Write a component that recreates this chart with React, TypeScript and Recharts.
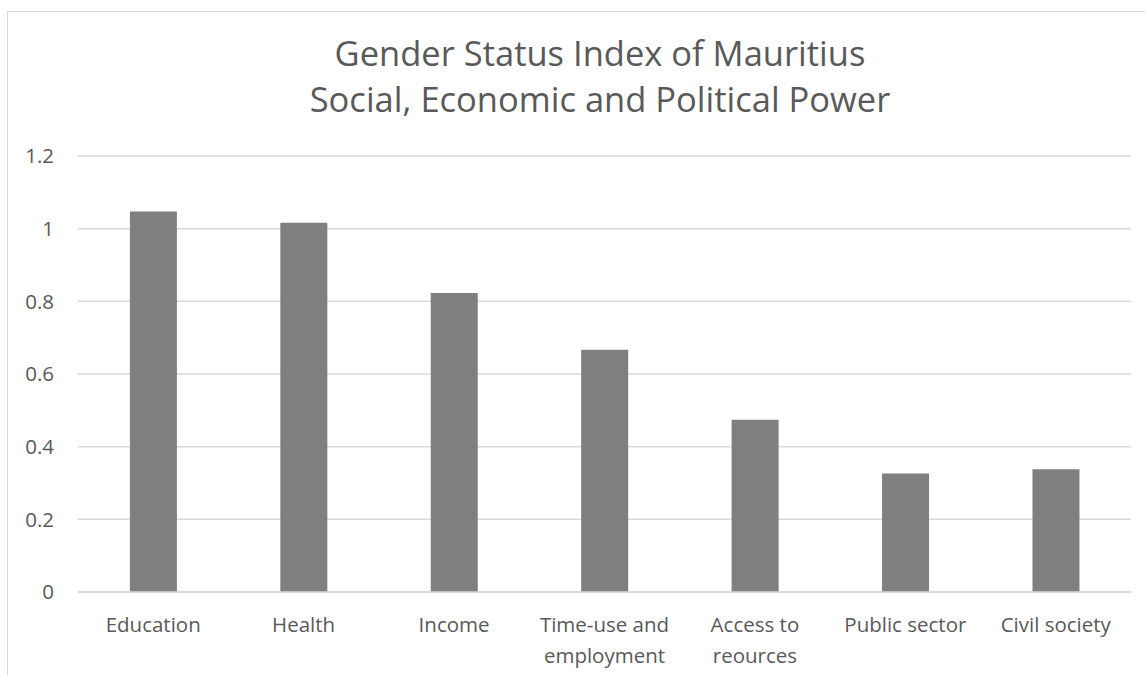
import React from 'react';
import { BarChart, Bar, XAxis, YAxis, CartesianGrid } from 'recharts';

const categories: string[] = [
  'Education',
  'Health',
  'Income',
  'Time-use and employment',
  'Access to reources',
  'Public sector',
  'Civil society',
];

const indexValues: number[] = [1.047, 1.016, 0.823, 0.667, 0.474, 0.326, 0.338];

const yTicks: number[] = [0, 0.2, 0.4, 0.6, 0.8, 1, 1.2];

const titleLines: string[] = ['Gender Status Index of Mauritius', 'Social, Economic and Political Power'];

const data = categories.map((name, i) => ({ name, value: indexValues[i] }));

const FONT = '"Open Sans", "Noto Sans", sans-serif';
const TEXT_COLOR = '#595959';
const TICK_SIZE = 20.5;
const LABEL_WIDTH = 146;

let ctx: CanvasRenderingContext2D | null = null;
const measure = (s: string) => {
  if (!ctx) ctx = document.createElement('canvas').getContext('2d');
  if (!ctx) return s.length * TICK_SIZE * 0.55;
  ctx.font = `${TICK_SIZE}px ${FONT}`;
  return ctx.measureText(s).width;
};

// greedy word wrap, like excel does for category labels
const wrap = (label: string): string[] => {
  const lines: string[] = [];
  let cur = '';
  label.split(' ').forEach((w) => {
    const next = cur ? `${cur} ${w}` : w;
    if (cur && measure(next) > LABEL_WIDTH) {
      lines.push(cur);
      cur = w;
    } else {
      cur = next;
    }
  });
  if (cur) lines.push(cur);
  return lines;
};

const CategoryTick = (props: any) => {
  const { x, y, payload } = props;
  const lines = wrap(String(payload.value));
  return (
    <text x={x} y={y} textAnchor="middle" fontSize={TICK_SIZE} fontFamily={FONT} fill={TEXT_COLOR}>
      {lines.map((l, i) => (
        <tspan key={i} x={x} dy={i === 0 ? '0.71em' : 31}>
          {l}
        </tspan>
      ))}
    </text>
  );
};

const App: React.FC = () => {
  return (
    <div style={{ position: 'relative', width: 1145, height: 675, overflow: 'hidden', background: '#fff' }}>
      <style>{'body{margin:0;overflow:hidden;}'}</style>
      <div
        style={{
          position: 'absolute',
          left: 7,
          top: 11,
          width: 1200,
          height: 700,
          border: '1.5px solid #d9d9d9',
          boxSizing: 'border-box',
        }}
      />
      <div
        style={{
          position: 'absolute',
          left: 0,
          top: 30,
          width: 1200,
          textAlign: 'center',
          fontFamily: FONT,
          fontSize: 34.5,
          lineHeight: '46px',
          color: TEXT_COLOR,
        }}
      >
        {titleLines.map((line) => (
          <div key={line}>{line}</div>
        ))}
      </div>
      <div style={{ position: 'absolute', left: 0, top: 0 }}>
        <BarChart
          width={1145}
          height={675}
          data={data}
          margin={{ top: 156, right: 14, bottom: 0, left: 0 }}
          barCategoryGap="34.5%"
        >
          <CartesianGrid vertical={false} stroke="#d9d9d9" strokeWidth={1.5} />
          <XAxis
            dataKey="name"
            height={83}
            interval={0}
            tickLine={false}
            axisLine={{ stroke: '#d9d9d9', strokeWidth: 1.5 }}
            tickSize={0}
            tickMargin={25}
            tick={<CategoryTick />}
          />
          <YAxis
            width={78}
            domain={[0, 1.2]}
            ticks={yTicks}
            axisLine={false}
            tickLine={false}
            tickSize={0}
            tickMargin={24}
            tick={{ fontSize: TICK_SIZE, fontFamily: FONT, fill: TEXT_COLOR }}
          />
          <Bar dataKey="value" fill="#7f7f7f" isAnimationActive={false} />
        </BarChart>
      </div>
    </div>
  );
};

export default App;
